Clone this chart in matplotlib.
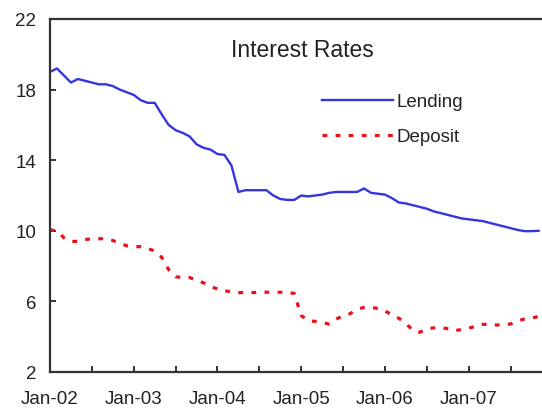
import matplotlib
matplotlib.use("Agg")
import matplotlib.pyplot as plt
import numpy as np

plt.rcParams['font.family'] = ['Liberation Sans', 'DejaVu Sans']

# Monthly data, Jan-2002 .. Nov-2007 (month index 0..70)
lending = [19.0, 19.2, 18.8, 18.4, 18.6, 18.5, 18.4, 18.3, 18.3, 18.2,
           18.0, 17.85, 17.7, 17.4, 17.25, 17.25, 16.6, 16.0, 15.7, 15.55,
           15.35, 14.9, 14.7, 14.6, 14.35, 14.3, 13.7, 12.2, 12.3, 12.3,
           12.3, 12.3, 12.0, 11.8, 11.75, 11.75, 12.0, 11.95, 12.0, 12.05,
           12.15, 12.2, 12.2, 12.2, 12.2, 12.4, 12.15, 12.1, 12.05, 11.85,
           11.6, 11.55, 11.45, 11.35, 11.25, 11.1, 11.0, 10.9, 10.8, 10.7,
           10.65, 10.6, 10.55, 10.45, 10.35, 10.25, 10.15, 10.05, 9.98, 9.98,
           10.0]
deposit = [10.05, 10.0, 9.6, 9.4, 9.4, 9.5, 9.55, 9.55, 9.55, 9.45,
           9.3, 9.15, 9.1, 9.1, 9.0, 8.85, 8.5, 7.8, 7.4, 7.35,
           7.35, 7.2, 7.05, 6.85, 6.7, 6.6, 6.55, 6.5, 6.5, 6.5,
           6.52, 6.52, 6.52, 6.52, 6.52, 6.45, 5.2, 4.9, 4.87, 4.8,
           4.72, 5.0, 5.18, 5.3, 5.55, 5.66, 5.66, 5.6, 5.45, 5.25,
           5.04, 4.75, 4.35, 4.25, 4.45, 4.5, 4.52, 4.45, 4.35, 4.4,
           4.48, 4.6, 4.7, 4.7, 4.66, 4.68, 4.72, 4.9, 5.0, 5.05,
           5.15]
year_labels = ['Jan-02', 'Jan-03', 'Jan-04', 'Jan-05', 'Jan-06', 'Jan-07']
y_ticks = [2, 6, 10, 14, 18, 22]

months = np.arange(len(lending))

fig = plt.figure(figsize=(5.42, 4.10), dpi=100)
ax = fig.add_axes([50/542, 1 - 373/410, 1 - 50/542, (373 - 20)/410])

ax.plot(months, lending, color='#3535e0', lw=1.7, label='Lending')
ax.plot(months, deposit, color='#e8101a', lw=2.3, linestyle=(0, (1.5, 2.6)),
        label='Deposit')

ax.set_xlim(0, 70.5)
ax.set_ylim(2, 22)
ax.set_yticks(y_ticks)
ax.set_xticks(np.arange(0, 12 * len(year_labels), 12))
ax.set_xticklabels(year_labels)
ax.set_xticks(np.arange(6, 72, 12), minor=True)

for s in ['left', 'bottom', 'top']:
    ax.spines[s].set_linewidth(1.6)
    ax.spines[s].set_color('#333333')
ax.spines['right'].set_visible(False)

ax.tick_params(axis='both', which='both', direction='in', length=4,
               width=1.4, color='#333333', labelsize=13.5, labelcolor='#222222')
ax.tick_params(axis='x', which='major', pad=13)
ax.tick_params(axis='y', pad=10)

ax.text(0.512, 0.915, 'Interest Rates', transform=ax.transAxes,
        ha='center', va='center', fontsize=16.5, color='#222222')

leg = ax.legend(loc='upper left', bbox_to_anchor=((322 - 50) / 492, (373 - 94) / 353),
                frameon=False, fontsize=13.5, handlelength=3.8, handletextpad=0.2,
                labelspacing=0.95, borderpad=0, borderaxespad=0)
for t in leg.get_texts():
    t.set_color('#222222')

fig.savefig('out.png', dpi=100)
